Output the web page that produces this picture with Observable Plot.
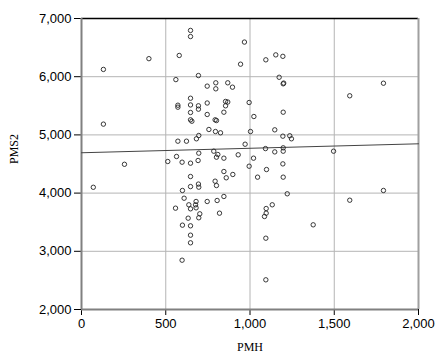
<!DOCTYPE html>
<html>
<head>
<meta charset="utf-8">
<script src="https://cdn.jsdelivr.net/npm/d3@7"></script>
<script src="https://cdn.jsdelivr.net/npm/@observablehq/plot@0.6"></script>
<style>
  html, body { margin: 0; padding: 0; background: #fff; }
</style>
</head>
<body>
<div id="chart"></div>
<script>
const pmh = [70,130,130,255,400,580,647,647,967,944,1094,1153,1195,560,694,1173,1197,1200,746,797,
  797,868,896,647,572,572,647,694,694,746,855,868,855,995,1792,1592,647,647,655,746,
  793,801,845,1023,1197,756,795,825,696,682,572,623,1003,1147,1195,1236,1246,971,1092,1147,
  1197,1197,1496,785,809,801,696,564,512,597,647,692,845,930,1021,995,1098,1195,845,859,
  898,647,793,694,1045,1197,599,647,696,801,845,609,637,647,680,677,680,746,805,558,
  702,696,819,633,599,647,647,647,597,1094,1096,1096,1086,1132,1221,1792,1592,1375,1094];
const pms2 = [4100,6125,5185,4495,6310,6365,6795,6690,6595,6215,6290,6375,6350,5950,6020,5990,5878,5890,5838,5895,
  5792,5895,5820,5630,5510,5476,5515,5500,5442,5548,5575,5565,5500,5557,5888,5672,5385,5259,5235,5351,
  5259,5247,5390,5316,5390,5093,5058,5036,4990,4933,4892,4892,5058,5087,4978,4985,4933,4840,4765,4708,
  4778,4720,4720,4720,4663,4617,4686,4629,4543,4531,4514,4560,4600,4658,4600,4462,4405,4502,4371,4263,
  4320,4285,4205,4155,4274,4274,4045,4112,4102,4130,3942,3912,3799,3730,3856,3799,3747,3856,3873,3741,
  3644,3576,3655,3569,3449,3438,3277,3146,2847,3225,3735,3655,3598,3799,3988,4045,3878,3455,2510];
const xTicks = [0, 500, 1000, 1500, 2000];
const yTicks = [2000, 3000, 4000, 5000, 6000, 7000];
const fitX = [0, 2000];
const fitY = [4693, 4847];

const points = pmh.map((x, i) => ({x, y: pms2[i]}));
const fit = fitX.map((x, i) => ({x, y: fitY[i]}));

const chart = Plot.plot({
  width: 444,
  height: 363,
  marginLeft: 81,
  marginRight: 26,
  marginTop: 18,
  marginBottom: 54,
  style: {fontFamily: "'Liberation Sans', Arial, sans-serif", fontSize: "13px", background: "#fff", color: "#000"},
  x: {domain: [0, 2000]},
  y: {domain: [2000, 7000]},
  marks: [
    Plot.gridX(xTicks.slice(1, -1), {stroke: "#b4b4b4", strokeOpacity: 1, strokeWidth: 1}),
    Plot.gridY(yTicks.slice(1, -1), {stroke: "#b4b4b4", strokeOpacity: 1, strokeWidth: 1}),
    Plot.axisX({ticks: xTicks, tickFormat: d3.format(","), tickSize: 6, tickPadding: 3, label: null, stroke: "#000", fontSize: 13}),
    Plot.axisY({ticks: yTicks, tickFormat: d3.format(","), tickSize: 7, tickPadding: 3, label: null, stroke: "#000", fontSize: 13}),
    Plot.ruleY([7000], {stroke: "#000", strokeWidth: 1.5}),
    Plot.ruleX([2000], {stroke: "#a0a0a0", strokeWidth: 2}),
    Plot.ruleX([0], {stroke: "#808080", strokeWidth: 2}),
    Plot.ruleY([2000], {stroke: "#808080", strokeWidth: 2}),
    Plot.line(fit, {x: "x", y: "y", stroke: "#444", strokeWidth: 1}),
    Plot.dot(points, {x: "x", y: "y", r: 2.2, stroke: "#222", strokeWidth: 0.9, fill: "none"}),
    Plot.text(["PMH"], {frameAnchor: "bottom", dy: 41, fontFamily: "'Liberation Serif', 'Times New Roman', serif", fontSize: 12, fill: "#000"}),
    Plot.text(["PMS2"], {frameAnchor: "left", dx: -67, rotate: -90, fontFamily: "'Liberation Serif', 'Times New Roman', serif", fontSize: 12, fill: "#000"})
  ]
});
document.getElementById("chart").appendChild(chart);
</script>
</body>
</html>
